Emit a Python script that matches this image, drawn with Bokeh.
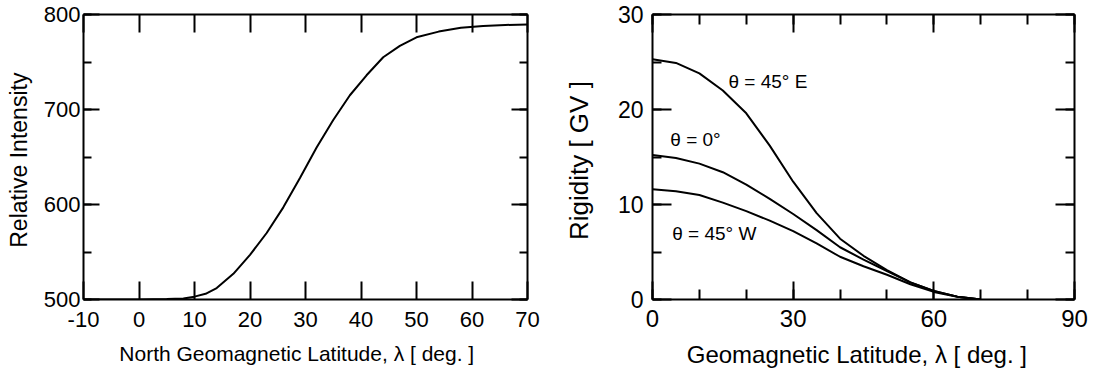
from bokeh.plotting import figure
from bokeh.layouts import row
from bokeh.models import Range1d, LinearAxis, SingleIntervalTicker, ColumnDataSource
from bokeh.core.properties import value
from bokeh.embed import file_html
from bokeh.resources import INLINE

# ---- Left panel data: relative intensity vs north geomagnetic latitude
lat_left = [-10, 0, 5, 8, 10, 12, 14, 17, 20, 23, 26, 29, 32, 35, 38, 41, 44, 47, 50, 54, 58, 62, 66, 70]
intensity = [500, 500, 500.5, 501, 503, 506, 512, 527, 547, 570, 597, 628, 660, 689, 715, 736, 755, 767, 776, 782, 786, 788, 789, 789.5]

# ---- Right panel data: cutoff rigidity vs geomagnetic latitude
lat_right = [0, 5, 10, 15, 20, 25, 30, 35, 40, 45, 50, 55, 60, 65, 70]
rig_east = [25.3, 24.9, 23.8, 22.0, 19.6, 16.2, 12.4, 9.1, 6.4, 4.6, 3.1, 1.8, 0.9, 0.3, 0.0]
rig_zero = [15.2, 14.9, 14.3, 13.4, 12.1, 10.6, 9.0, 7.3, 5.5, 4.2, 3.0, 1.8, 0.9, 0.3, 0.0]
rig_west = [11.6, 11.4, 11.0, 10.2, 9.3, 8.3, 7.2, 5.9, 4.5, 3.5, 2.6, 1.6, 0.8, 0.3, 0.0]

curve_labels = ["θ = 45° E", "θ = 0°", "θ = 45° W"]
label_x = [16.2, 3.8, 4.2]
label_y = [23.0, 16.8, 6.9]

FONT = "Liberation Sans"


def style_axis(ax, ticker, tick_in, minor_in, font_size, show_labels=True, standoff=4):
    ax.ticker = ticker
    ax.axis_line_width = 2
    ax.axis_line_color = "black"
    ax.major_tick_in = tick_in
    ax.major_tick_out = 0
    ax.minor_tick_in = minor_in
    ax.minor_tick_out = 0
    ax.major_tick_line_width = 2
    ax.minor_tick_line_width = 2
    ax.major_tick_line_color = "black"
    ax.minor_tick_line_color = "black" if minor_in > 0 else None
    ax.major_label_text_font = FONT
    ax.major_label_text_font_size = font_size
    ax.major_label_text_color = "black"
    ax.major_label_standoff = standoff
    ax.axis_label_text_font = FONT
    ax.axis_label_text_font_style = "normal"
    ax.axis_label_text_color = "black"
    if not show_labels:
        ax.major_label_text_font_size = "0px"
        ax.major_label_text_alpha = 0
        ax.major_label_standoff = 0


H = 376

# ---------------- Left figure ----------------
p1 = figure(width=560, height=H, output_backend="svg", toolbar_location=None,
            x_range=Range1d(-10, 70), y_range=Range1d(500, 800),
            min_border_left=83, min_border_right=33, min_border_top=14, min_border_bottom=77)
p1.outline_line_color = None
p1.grid.visible = False
p1.background_fill_color = "white"

style_axis(p1.xaxis[0], SingleIntervalTicker(interval=10, num_minor_ticks=0), 18, 0, "22px", standoff=12)
p1.xaxis[0].major_label_overrides = {-10: "-10"}
style_axis(p1.yaxis[0], SingleIntervalTicker(interval=100, num_minor_ticks=2), 16, 8, "22px", standoff=3)
p1.xaxis[0].axis_label = "North  Geomagnetic  Latitude,  λ [ deg. ]"
p1.xaxis[0].axis_label_text_font_size = "21px"
p1.xaxis[0].axis_label_standoff = 12
p1.yaxis[0].axis_label = "Relative  Intensity"
p1.yaxis[0].axis_label_text_font_size = "23px"
p1.yaxis[0].axis_label_standoff = 9

top1 = LinearAxis()
style_axis(top1, SingleIntervalTicker(interval=10, num_minor_ticks=0), 18, 0, "0px", show_labels=False)
p1.add_layout(top1, "above")
right1 = LinearAxis()
style_axis(right1, SingleIntervalTicker(interval=100, num_minor_ticks=2), 16, 8, "0px", show_labels=False)
p1.add_layout(right1, "right")

p1.line(lat_left, intensity, line_color="black", line_width=2)

# ---------------- Right figure ----------------
p2 = figure(width=533, height=H, output_backend="svg", toolbar_location=None,
            x_range=Range1d(0, 90), y_range=Range1d(0, 30),
            min_border_left=92, min_border_right=19, min_border_top=14, min_border_bottom=77)
p2.outline_line_color = None
p2.grid.visible = False

style_axis(p2.xaxis[0], SingleIntervalTicker(interval=30, num_minor_ticks=3), 18, 10, "24px", standoff=10)
style_axis(p2.yaxis[0], SingleIntervalTicker(interval=10, num_minor_ticks=2), 19, 9, "23px", standoff=9)
p2.xaxis[0].axis_label = "Geomagnetic  Latitude,  λ [ deg. ]"
p2.xaxis[0].axis_label_text_font_size = "24px"
p2.xaxis[0].axis_label_standoff = 11
p2.yaxis[0].axis_label = "Rigidity  [ GV ]"
p2.yaxis[0].axis_label_text_font_size = "26px"
p2.yaxis[0].axis_label_standoff = 21

top2 = LinearAxis()
style_axis(top2, SingleIntervalTicker(interval=30, num_minor_ticks=3), 18, 10, "0px", show_labels=False)
p2.add_layout(top2, "above")
right2 = LinearAxis()
style_axis(right2, SingleIntervalTicker(interval=10, num_minor_ticks=2), 19, 9, "0px", show_labels=False)
p2.add_layout(right2, "right")

for ys in (rig_east, rig_zero, rig_west):
    p2.line(lat_right, ys, line_color="black", line_width=2)

src = ColumnDataSource(dict(x=label_x, y=label_y, t=curve_labels))
p2.text(x="x", y="y", text="t", source=src, text_font=value(FONT), text_font_size="19px",
        text_align="left", text_baseline="middle", text_color="black")

layout = row(p1, p2, spacing=0)
open("out.html", "w").write(file_html(layout, INLINE))
